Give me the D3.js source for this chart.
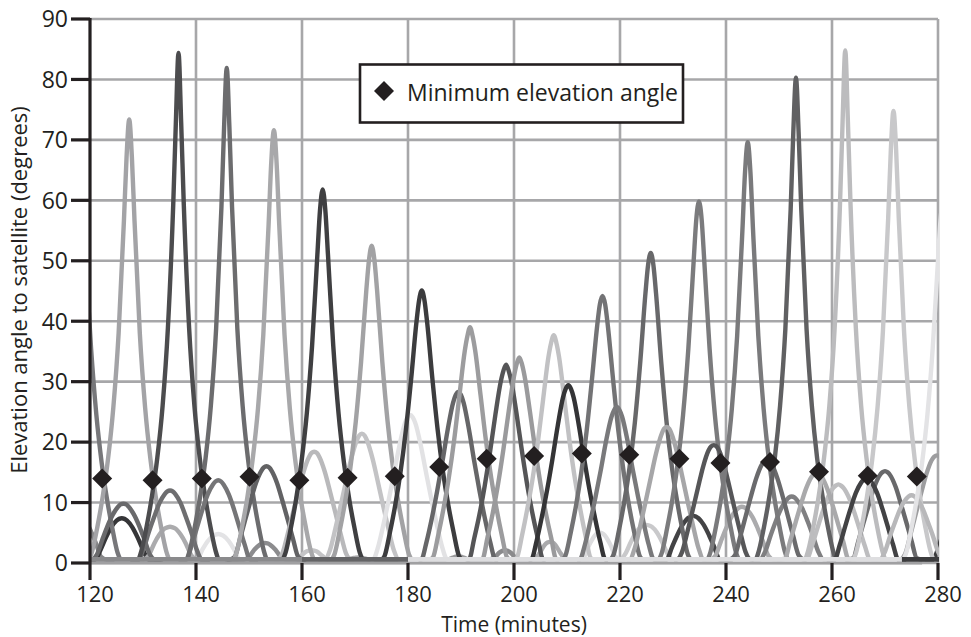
<!DOCTYPE html>
<html><head><meta charset="utf-8">
<script src="https://cdn.jsdelivr.net/npm/d3@7"></script>
<style>body{margin:0;background:#fff}text{font-family:"Open Sans","DejaVu Sans",sans-serif;fill:#231f20}</style>
</head><body><svg id="chart" width="971" height="637"></svg>
<script>
// ---------- data ----------
const xTicks = [120, 140, 160, 180, 200, 220, 240, 260, 280];
const yTicks = [0, 10, 20, 30, 40, 50, 60, 70, 80, 90];
// minutes from the pass's highest point at which each profile value is read
const profileOffsets = [0, 0.5, 1, 2, 3, 4, 5, 6, 7, 7.5];
// time (minutes) of the highest point of every satellite pass
const passTimes = [
  117.1, 126.0, 135.1, 144.2, 153.0, 161.8, 170.6,
  189.5, 198.3, 206.8, 216.2, 225.0, 233.8, 243.0, 252.4, 261.2, 270.0, 279.8, 285.0,
  118.2, 126.3, 127.4, 135.1, 136.7, 144.2, 145.8, 153.3, 154.7, 162.3, 163.9, 171.3, 173.15,
  180.4, 182.6, 189.5, 191.7, 198.5, 201.0, 207.5, 210.25, 216.7, 219.4, 225.8, 228.8,
  234.9, 237.7, 244.1, 247.7, 253.2, 257.1, 262.5, 266.5, 271.6, 275.0, 281.0
];
// elevation (degrees) of each pass at the offsets above, same on both sides of the peak
const passProfiles = [
  [8.7, 8.6, 8.3, 7.2, 5.4, 3.3, 1.0, 0, 0, 0],
  [7.4, 7.3, 7.0, 5.9, 4.2, 2.2, 0.1, 0, 0, 0],
  [6.0, 5.9, 5.7, 4.7, 3.2, 1.3, 0, 0, 0, 0],
  [4.8, 4.7, 4.5, 3.6, 2.2, 0.5, 0, 0, 0, 0],
  [3.3, 3.25, 3.0, 2.2, 1.0, 0, 0, 0, 0, 0],
  [2.1, 2.05, 1.9, 1.2, 0.1, 0, 0, 0, 0, 0],
  [0.9, 0.88, 0.8, 0.3, 0, 0, 0, 0, 0, 0],
  [1.1, 1.05, 0.9, 0.4, 0, 0, 0, 0, 0, 0],
  [2.1, 2.0, 1.75, 0.9, 0, 0, 0, 0, 0, 0],
  [3.5, 3.4, 3.0, 1.6, 0.3, 0, 0, 0, 0, 0],
  [5.0, 4.9, 4.5, 3.0, 1.0, 0, 0, 0, 0, 0],
  [6.3, 6.2, 6.0, 5.0, 3.4, 1.5, 0, 0, 0, 0],
  [7.8, 7.7, 7.4, 6.3, 4.6, 2.6, 0.4, 0, 0, 0],
  [9.3, 9.2, 8.8, 7.6, 5.7, 3.5, 1.2, 0, 0, 0],
  [11.0, 10.85, 10.4, 9.0, 6.9, 4.5, 1.9, 0, 0, 0],
  [13.0, 12.8, 12.4, 10.8, 8.4, 5.6, 2.8, 0.1, 0, 0],
  [15.2, 15.0, 14.5, 12.6, 9.8, 6.8, 3.7, 0.8, 0, 0],
  [17.8, 17.6, 17.0, 14.7, 11.5, 8.1, 4.7, 1.5, 0, 0],
  [12.0, 11.85, 11.4, 9.9, 7.6, 5.1, 2.3, 0, 0, 0],
  [60, 57, 50.1, 35.5, 24.5, 16.6, 10.6, 5.8, 1.7, 0],
  [9.8, 9.7, 9.3, 8.0, 6.1, 3.8, 1.4, 0, 0, 0],
  [73.4, 67.2, 56.6, 38, 25.7, 17.2, 11, 6, 1.9, 0],
  [12, 11.85, 11.4, 9.9, 7.6, 5.1, 2.3, 0, 0, 0],
  [84.4, 72.9, 59.2, 38.9, 26, 17.4, 11.1, 6.1, 2, 0],
  [13.7, 13.5, 13.0, 11.3, 8.8, 5.9, 3.0, 0.2, 0, 0],
  [81.9, 72.1, 58.9, 38.8, 26, 17.3, 11.1, 6.1, 2, 0],
  [16, 15.8, 15.2, 13.2, 10.3, 7.2, 4.0, 1.0, 0, 0],
  [71.6, 66.3, 56, 37.8, 25.6, 17.2, 10.9, 6, 1.9, 0],
  [18.4, 18.2, 17.5, 15.1, 11.8, 8.3, 4.8, 1.6, 0, 0],
  [61.8, 58.4, 51, 35.9, 24.7, 16.7, 10.6, 5.8, 1.7, 0],
  [21.4, 21.1, 20.2, 17.3, 13.5, 9.5, 5.7, 2.2, 0, 0],
  [52.5, 50.2, 45.3, 33.3, 23.4, 15.9, 10.2, 5.5, 1.5, 0],
  [24.5, 24.1, 23.1, 19.5, 15, 10.6, 6.5, 2.8, 0, 0],
  [45.1, 43.5, 39.9, 30.5, 22, 15.1, 9.6, 5.1, 1.2, 0],
  [28.3, 27.8, 26.5, 22.1, 16.8, 11.9, 7.4, 3.5, 0.1, 0],
  [39, 37.5, 35, 27.7, 20.3, 14.1, 9, 4.6, 0.9, 0],
  [32.8, 31.8, 30, 24.6, 18.5, 12.9, 8.1, 4.1, 0.4, 0],
  [34, 32.9, 30.9, 25.1, 18.8, 13.1, 8.3, 4.2, 0.5, 0],
  [37.7, 36.4, 34.1, 27.1, 20, 13.9, 8.9, 4.5, 0.8, 0],
  [29.4, 28.8, 27.4, 22.7, 17.2, 12.1, 7.6, 3.6, 0.2, 0],
  [44.2, 42.8, 39.3, 30.3, 21.8, 15, 9.5, 5, 1.2, 0],
  [25.8, 25.3, 24.2, 20.3, 15.5, 11, 6.9, 3.1, 0, 0],
  [51.3, 49.3, 44.6, 33, 23.2, 15.8, 10.1, 5.4, 1.4, 0],
  [22.5, 22.2, 21.2, 18.1, 14.1, 10, 6.1, 2.5, 0, 0],
  [59.8, 56.9, 50, 35.5, 24.5, 16.6, 10.6, 5.8, 1.7, 0],
  [19.5, 19.3, 18.6, 16.0, 12.4, 8.7, 5.1, 1.8, 0, 0],
  [69.6, 64.8, 55.1, 37.5, 25.5, 17.1, 10.9, 6, 1.9, 0],
  [17, 16.8, 16.2, 14.0, 11.0, 7.7, 4.4, 1.3, 0, 0],
  [80.3, 71.3, 58.5, 38.7, 26, 17.3, 11.1, 6.1, 2, 0],
  [14.9, 14.7, 14.2, 12.3, 9.6, 6.6, 3.6, 0.7, 0, 0],
  [84.8, 73, 59.2, 38.9, 26, 17.4, 11.1, 6.1, 2, 0],
  [14, 13.8, 13.3, 11.6, 9.0, 6.1, 3.1, 0.3, 0, 0],
  [74.8, 68.3, 57, 38.2, 25.8, 17.2, 11, 6, 1.9, 0],
  [11.2, 11.05, 10.6, 9.2, 7.0, 4.6, 1.9, 0, 0, 0],
  [60, 57, 50.1, 35.5, 24.5, 16.6, 10.6, 5.8, 1.7, 0]
];
// minimum elevation angle markers
const minTimes = [122.3, 131.8, 141.1, 150.1, 159.5, 168.6, 177.5, 185.9, 194.85,
  203.8, 212.8, 221.75, 231.2, 238.95, 248.3, 257.55, 266.75, 276.0];
const minElevations = [14.0, 13.7, 14.0, 14.25, 13.7, 14.1, 14.35, 15.9, 17.25,
  17.7, 18.1, 17.9, 17.25, 16.55, 16.7, 15.1, 14.45, 14.3];
// elevation at which passes rest while the satellite is below the horizon
const horizonLevel = 0.6;
const horizonSpans = [[120, 160], [160, 180], [180, 273.2], [273.2, 280.5]];

// ---------- styles ----------
const passShades = [
  "#858587", "#363638", "#ababad", "#e3e3e5", "#8c8c8e", "#c4c4c6", "#a8a8aa",
  "#9a9a9c", "#8a8a8c", "#aaaaac", "#dcdcde", "#c9c9cb", "#434345", "#ababad", "#7f7f81", "#bdbdbf", "#69696b", "#9d9d9f", "#3c3c3e",
  "#77777a", "#6a6a6c", "#a3a3a6", "#6e6e70", "#4c4c4e", "#757577", "#6c6c6e", "#626264", "#a8a8aa", "#b9b9bb", "#3f3f41", "#c3c3c5", "#a2a2a4",
  "#e2e2e4", "#3c3c3e", "#666668", "#9c9c9e", "#555557", "#9a9a9c", "#c1c1c3", "#343436", "#737375", "#79797b", "#68686a", "#a6a6a8",
  "#7b7b7d", "#565658", "#7a7a7c", "#6a6a6c", "#606062", "#a9a9ab", "#bcbcbe", "#424244", "#c8c8ca", "#b8b8ba", "#e3e3e5"
];
const horizonShades = ["#8a8a8c", "#646466", "#dedee0", "#3c3c3e"];
const ink = "#231f20", gridColor = "#a7a7a9";

// ---------- drawing ----------
const svg = d3.select("#chart");
const margin = {left: 90, right: 33, top: 19, bottom: 74};
const W = 971, H = 637;
const x = d3.scaleLinear().domain([120, 280]).range([margin.left, W - margin.right]);
const y = d3.scaleLinear().domain([0, 90]).range([H - margin.bottom, margin.top]);

// grid
const grid = svg.append("g");
grid.selectAll(".h").data(yTicks).join("line")
  .attr("x1", x(120)).attr("x2", x(280)).attr("y1", d => y(d)).attr("y2", d => y(d))
  .attr("stroke", gridColor).attr("stroke-width", 2.6);
grid.selectAll(".v").data(xTicks.slice(1)).join("line")
  .attr("x1", d => x(d)).attr("x2", d => x(d)).attr("y1", y(0)).attr("y2", y(90))
  .attr("stroke", gridColor).attr("stroke-width", 2.6);

svg.append("clipPath").attr("id", "plot").append("rect")
  .attr("x", x(120)).attr("y", y(90) - 2).attr("width", x(280) - x(120) + 1).attr("height", y(0) - y(90) + 5);

const plot = svg.append("g").attr("clip-path", "url(#plot)");
const line = d3.line().x(d => x(d[0])).y(d => y(Math.max(d[1], horizonLevel))).curve(d3.curveMonotoneX);

// horizon band (passes resting at zero)
plot.append("path").datum([[120, 0], [277, 0]]).attr("d", d3.line().x(d => x(d[0])).y(d => y(d[1])))
  .attr("stroke", "#a0a0a2").attr("stroke-width", 3).attr("fill", "none");

passTimes.forEach((t, i) => {
  const prof = passProfiles[i];
  const pts = [];
  for (let k = profileOffsets.length - 1; k > 0; k--) pts.push([t - profileOffsets[k], prof[k]]);
  for (let k = 0; k < profileOffsets.length; k++) pts.push([t + profileOffsets[k], prof[k]]);
  plot.append("path").datum(pts).attr("d", line)
    .attr("fill", "none").attr("stroke", passShades[i]).attr("stroke-width", 4.4)
    .attr("stroke-linejoin", "round");
});

horizonSpans.forEach((s, i) => {
  plot.append("path").datum([[s[0], horizonLevel], [s[1], horizonLevel]])
    .attr("d", d3.line().x(d => x(d[0])).y(d => y(d[1])))
    .attr("stroke", horizonShades[i]).attr("stroke-width", 4.6).attr("fill", "none");
});

// minimum elevation markers
const diamond = d3.symbol().type(d3.symbolSquare).size(200);
svg.append("g").selectAll("path").data(minTimes).join("path")
  .attr("d", diamond)
  .attr("transform", (d, i) => `translate(${x(d)},${y(minElevations[i])}) rotate(45)`)
  .attr("fill", ink);

// axes
svg.append("line").attr("x1", x(120)).attr("x2", x(120)).attr("y1", y(90) - 1).attr("y2", y(0) + 17)
  .attr("stroke", ink).attr("stroke-width", 3.2);
svg.selectAll(".yt").data(yTicks).join("line")
  .attr("x1", x(120) - 19).attr("x2", x(120)).attr("y1", d => y(d)).attr("y2", d => y(d))
  .attr("stroke", ink).attr("stroke-width", 3.2);
svg.selectAll(".xt").data(xTicks.slice(1)).join("line")
  .attr("x1", d => x(d)).attr("x2", d => x(d)).attr("y1", y(0)).attr("y2", y(0) + 17)
  .attr("stroke", ink).attr("stroke-width", 3.2);
svg.selectAll(".yl").data(yTicks).join("text")
  .attr("x", x(120) - 22).attr("y", d => y(d)).attr("dy", "0.36em")
  .attr("text-anchor", "end").attr("font-size", 23).text(d => d);
svg.selectAll(".xl").data(xTicks).join("text")
  .attr("x", d => x(d) + 5).attr("y", 602)
  .attr("text-anchor", "middle").attr("font-size", 22).text(d => d);
svg.append("text").attr("x", (x(120) + x(280)) / 2).attr("y", 632)
  .attr("text-anchor", "middle").attr("font-size", 21).text("Time (minutes)");
svg.append("text").attr("transform", `translate(27,290) rotate(-90)`)
  .attr("text-anchor", "middle").attr("font-size", 22).text("Elevation angle to satellite (degrees)");

// legend
const lg = svg.append("g");
lg.append("rect").attr("x", 360).attr("y", 64.5).attr("width", 323).attr("height", 58)
  .attr("fill", "#fff").attr("stroke", ink).attr("stroke-width", 2.6);
lg.append("path").attr("d", diamond).attr("transform", "translate(384,91) rotate(45)").attr("fill", ink);
lg.append("text").attr("x", 407).attr("y", 101).attr("font-size", 23).text("Minimum elevation angle");
</script>
</body></html>
